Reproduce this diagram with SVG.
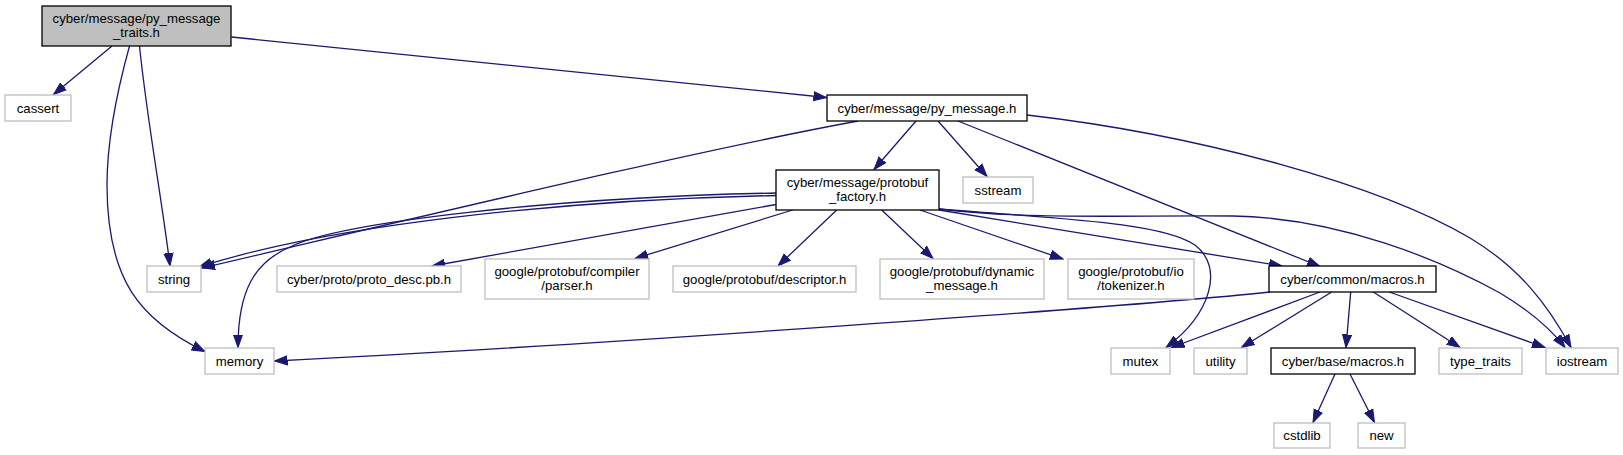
<svg xmlns="http://www.w3.org/2000/svg" width="1623" height="455" viewBox="0 0 1623 455">
<style>
.n rect{fill:#fff;stroke:#bfbfbf;stroke-width:1.3}
.n.k rect{stroke:#000}
.n.root rect{fill:#bfbfbf;stroke:#000}
text{font-family:"Liberation Sans",Arial,Helvetica,sans-serif;font-size:13.2px;fill:#000;text-anchor:middle}
.e path{fill:none;stroke:#191970;stroke-width:1.3;marker-end:url(#ah)}
</style>
<defs>
<marker id="ah" markerUnits="userSpaceOnUse" markerWidth="14" markerHeight="12" viewBox="0 -6 14 12" refX="13" refY="0" orient="auto">
<path d="M0,-4.6 L13,0 L0,4.6 Z" fill="#191970" stroke="#191970" stroke-width="1"/>
</marker>
</defs>
<rect width="1623" height="455" fill="#fff"/>
<g class="e" id="edges">
<path d="M112,46 L53.5,94.5"/>
<path d="M139.5,46 C147,120 162,200 170,266"/>
<path d="M129.5,46 C116,95 107,140 107,185 C107,280 140,320 205,351.5"/>
<path d="M231.5,37 L826.5,97.5"/>
<path d="M858,121 C700,150 450,210 202,268"/>
<path d="M916,121 L874,169.5"/>
<path d="M938,121 L987,176.5"/>
<path d="M958,121 L1320,266.5"/>
<path d="M1027,115 C1200,135 1380,185 1470,238 C1520,268 1548,305 1571,347.5"/>
<path d="M776,195.5 C560,200 330,225 199,267"/>
<path d="M776,193 C560,197 340,222 290,247 C255,262 238,290 238,347.5"/>
<path d="M776,204.5 L432,266"/>
<path d="M792.7,210 L635,258.5"/>
<path d="M836.7,210 L778,266"/>
<path d="M881.7,210 L933,258.5"/>
<path d="M920,210 L1063,259"/>
<path d="M939,209 C1060,219 1160,222 1195,245 C1225,268 1210,315 1166,347.5"/>
<path d="M939,210 L1282,266"/>
<path d="M939,209 C1030,220 1130,215 1233,216 C1340,218 1440,260 1500,293 C1530,311 1550,328 1565,347.5"/>
<path d="M1270,292 C1150,305 600,345 274.5,361"/>
<path d="M1320,292 L1171.5,347.5"/>
<path d="M1331.7,292 L1241.5,347.5"/>
<path d="M1350.7,292 L1346,347.5"/>
<path d="M1373.3,292 L1460,347.5"/>
<path d="M1389.3,292 L1545,347.5"/>
<path d="M1335,374 L1313,422.5"/>
<path d="M1350,374 L1374.5,422.5"/>
</g>
<g class="n root" id="node_traits"><rect x="42" y="6" width="189" height="40"/><text x="136.5" y="22.5">cyber/message/py_message</text><text x="136.5" y="36.5">_traits.h</text></g>
<g class="n" id="node_cassert"><rect x="5" y="95" width="66" height="26"/><text x="38" y="112.5">cassert</text></g>
<g class="n k" id="node_py_message"><rect x="827" y="95" width="200" height="26"/><text x="927" y="112.5">cyber/message/py_message.h</text></g>
<g class="n k" id="node_protobuf_factory"><rect x="776" y="170" width="163" height="40"/><text x="857.5" y="186.5">cyber/message/protobuf</text><text x="857.5" y="200.5">_factory.h</text></g>
<g class="n" id="node_sstream"><rect x="963" y="177" width="70" height="26"/><text x="998" y="194.5">sstream</text></g>
<g class="n" id="node_string"><rect x="147" y="266" width="54" height="26"/><text x="174" y="283.5">string</text></g>
<g class="n" id="node_proto_desc"><rect x="277" y="266" width="184" height="26"/><text x="369" y="283.5">cyber/proto/proto_desc.pb.h</text></g>
<g class="n" id="node_compiler"><rect x="485" y="259" width="164" height="40"/><text x="567" y="275.5">google/protobuf/compiler</text><text x="567" y="289.5">/parser.h</text></g>
<g class="n" id="node_descriptor"><rect x="673" y="266" width="183" height="26"/><text x="764.5" y="283.5">google/protobuf/descriptor.h</text></g>
<g class="n" id="node_dynamic"><rect x="880" y="259" width="164" height="40"/><text x="962" y="275.5">google/protobuf/dynamic</text><text x="962" y="289.5">_message.h</text></g>
<g class="n" id="node_tokenizer"><rect x="1068" y="259" width="126" height="40"/><text x="1131" y="275.5">google/protobuf/io</text><text x="1131" y="289.5">/tokenizer.h</text></g>
<g class="n k" id="node_common_macros"><rect x="1269" y="266" width="167" height="26"/><text x="1352.5" y="283.5">cyber/common/macros.h</text></g>
<g class="n" id="node_memory"><rect x="205" y="348" width="69" height="26"/><text x="239.5" y="365.5">memory</text></g>
<g class="n" id="node_mutex"><rect x="1111" y="348" width="59" height="26"/><text x="1140.5" y="365.5">mutex</text></g>
<g class="n" id="node_utility"><rect x="1194" y="348" width="53" height="26"/><text x="1220.5" y="365.5">utility</text></g>
<g class="n k" id="node_base_macros"><rect x="1271" y="348" width="144" height="26"/><text x="1343" y="365.5">cyber/base/macros.h</text></g>
<g class="n" id="node_type_traits"><rect x="1439" y="348" width="83" height="26"/><text x="1480.5" y="365.5">type_traits</text></g>
<g class="n" id="node_iostream"><rect x="1546" y="348" width="72" height="26"/><text x="1582" y="365.5">iostream</text></g>
<g class="n" id="node_cstdlib"><rect x="1274" y="423" width="56" height="25"/><text x="1302" y="440">cstdlib</text></g>
<g class="n" id="node_new"><rect x="1358" y="423" width="47" height="25"/><text x="1381.5" y="440">new</text></g>
</svg>
